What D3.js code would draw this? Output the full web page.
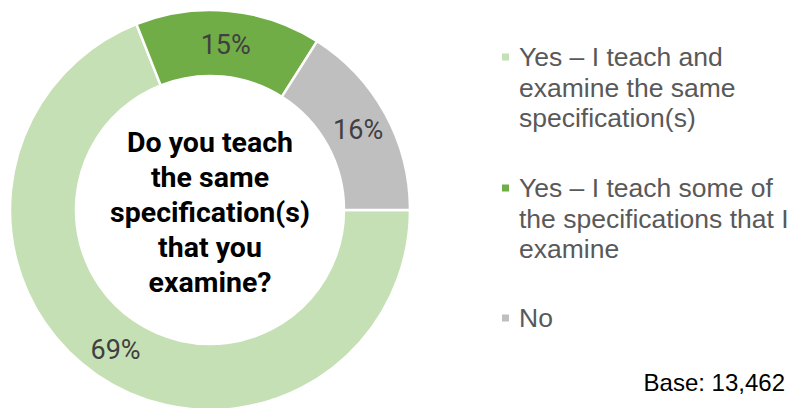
<!DOCTYPE html>
<html>
<head>
<meta charset="utf-8">
<script src="https://cdn.jsdelivr.net/npm/d3@7"></script>
<style>
  html, body { margin: 0; padding: 0; background: #fff; }
  svg { display: block; }
</style>
</head>
<body>
<svg id="chart" width="790" height="408"></svg>
<script>
// Survey responses
const categories = [
  "Yes \u2013 I teach and examine the same specification(s)",
  "Yes \u2013 I teach some of the specifications that I examine",
  "No"
];
const values = [69, 15, 16];
const colors = ["#C5E0B4", "#70AD47", "#BFBFBF"];
const legendLines = [
  ["Yes \u2013 I teach and", "examine the same", "specification(s)"],
  ["Yes \u2013 I teach some of", "the specifications that I", "examine"],
  ["No"]
];
const titleLines = ["Do you teach", "the same", "specification(s)", "that you", "examine?"];
const baseNote = "Base: 13,462";

const svg = d3.select("#chart");
const cx = 210, cy = 210, rOuter = 200, rInner = 134;

const pie = d3.pie()
  .value(d => d)
  .sort(null)
  .startAngle(Math.PI / 2)
  .endAngle(Math.PI / 2 + 2 * Math.PI);

const arc = d3.arc().innerRadius(rInner).outerRadius(rOuter);

const g = svg.append("g").attr("transform", `translate(${cx},${cy})`);
const arcs = pie(values);

g.selectAll("path.slice")
  .data(arcs)
  .join("path")
  .attr("class", "slice")
  .attr("d", arc)
  .attr("fill", (d, i) => colors[i])
  .attr("stroke", "#fff")
  .attr("stroke-width", 2.5);

// Percentage labels placed inside each band
const labelR = [168, 167, 169];
const labelArc = d3.arc();
g.selectAll("text.pct")
  .data(arcs)
  .join("text")
  .attr("class", "pct")
  .attr("transform", (d, i) => {
    const r = labelR[i];
    const c = labelArc.innerRadius(r).outerRadius(r).centroid(d);
    return `translate(${c[0]},${c[1] + 1.5})`;
  })
  .attr("text-anchor", "middle")
  .attr("dominant-baseline", "central")
  .attr("font-family", "Roboto, sans-serif")
  .attr("font-size", 27)
  .attr("fill", "#404040")
  .text(d => d.data + "%");

// Centre question
const title = g.append("text")
  .attr("text-anchor", "middle")
  .attr("font-family", "Roboto, sans-serif")
  .attr("font-weight", "bold")
  .attr("font-size", 28.5)
  .attr("fill", "#000");
titleLines.forEach((t, i) => {
  title.append("tspan")
    .attr("x", 0)
    .attr("y", -68 + i * 35)
    .attr("dominant-baseline", "central")
    .text(t);
});

// Legend
const legendX = 502;
const legendTop = [57, 188, 318];
const lineH = 30.5;
legendLines.forEach((lines, i) => {
  const lg = svg.append("g");
  lg.append("rect")
    .attr("x", legendX)
    .attr("y", legendTop[i] - 3.5)
    .attr("width", 7)
    .attr("height", 7)
    .attr("fill", colors[i]);
  const txt = lg.append("text")
    .attr("font-family", "'Liberation Sans', Arial, sans-serif")
    .attr("font-size", 26.5)
    .attr("fill", "#595959");
  lines.forEach((l, j) => {
    txt.append("tspan")
      .attr("x", legendX + 17)
      .attr("y", legendTop[i] + j * lineH)
      .attr("dominant-baseline", "central")
      .text(l);
  });
});

svg.append("text")
  .attr("x", 785)
  .attr("y", 382)
  .attr("text-anchor", "end")
  .attr("dominant-baseline", "central")
  .attr("font-family", "'Liberation Sans', Arial, sans-serif")
  .attr("font-size", 24)
  .attr("fill", "#000")
  .text(baseNote);
</script>
</body>
</html>
